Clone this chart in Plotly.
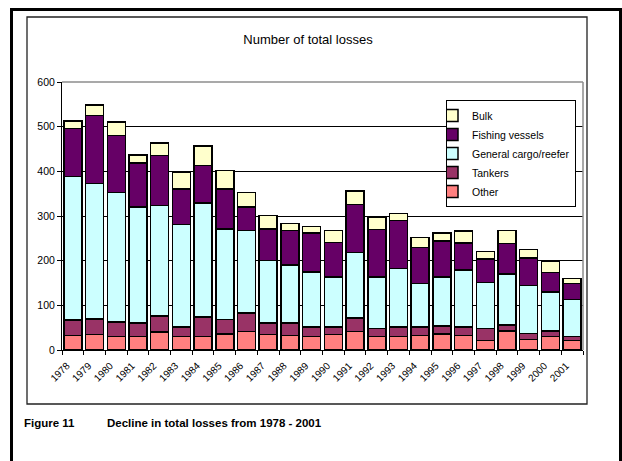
import plotly.graph_objects as go

# Total losses per year, split by ship type (stacked bottom to top)
years = [str(y) for y in range(1978, 2002)]
other = [33, 35, 30, 30, 40, 30, 30, 36, 41, 35, 33, 30, 35, 41, 30, 30, 33, 36, 33, 21, 42, 24, 30, 21]
tankers = [34, 34, 33, 31, 36, 22, 44, 32, 42, 25, 27, 22, 17, 31, 18, 22, 19, 18, 19, 27, 14, 13, 12, 9]
general_cargo = [322, 304, 290, 259, 247, 229, 255, 203, 184, 140, 130, 123, 112, 146, 116, 131, 97, 110, 127, 103, 114, 107, 88, 83]
fishing = [107, 152, 127, 99, 113, 80, 84, 90, 53, 71, 77, 87, 77, 108, 106, 107, 80, 80, 61, 53, 69, 62, 43, 36]
bulk = [17, 23, 30, 18, 28, 36, 44, 41, 33, 30, 16, 14, 26, 30, 27, 16, 23, 18, 26, 16, 29, 19, 26, 11]

series = [
    ("Other", other, "#FF8080"),
    ("Tankers", tankers, "#993366"),
    ("General cargo/reefer", general_cargo, "#CCFFFF"),
    ("Fishing vessels", fishing, "#660066"),
    ("Bulk", bulk, "#FFFFCC"),
]

FONT = "Liberation Sans, Arial, sans-serif"

fig = go.Figure()
for name, vals, color in series:
    fig.add_trace(go.Bar(
        x=years, y=vals, name=name,
        marker=dict(color=color, line=dict(color="#000000", width=1.5)),
    ))

W, H = 622, 461
L, R, T, B = 62, 583, 82, 350  # plot area in pixels


def px(x):
    return (x - L) / (R - L)


def py(y):
    return (B - y) / (B - T)


shapes = [
    # outer page frame
    dict(type="rect", xref="paper", yref="paper",
         x0=px(11.5), x1=px(620.5), y0=py(480), y1=py(9.5),
         line=dict(color="#000000", width=3), layer="above"),
    # chart area frame
    dict(type="rect", xref="paper", yref="paper",
         x0=px(27), x1=px(587), y0=py(404), y1=py(17),
         line=dict(color="#222222", width=1.3), layer="above"),
    # plot area border (top and right)
    dict(type="line", xref="paper", yref="paper",
         x0=0, x1=1, y0=1, y1=1, line=dict(color="#8C8C8C", width=1.5)),
    dict(type="line", xref="paper", yref="paper",
         x0=1, x1=1, y0=0, y1=1, line=dict(color="#8C8C8C", width=1.5)),
]

fig.update_layout(
    width=W, height=H,
    margin=dict(l=L, r=W - R, t=T, b=H - B),
    paper_bgcolor="white", plot_bgcolor="white",
    barmode="stack", bargap=0.17,
    font=dict(family=FONT, size=10, color="#000000"),
    title=dict(text="Number of total losses", font=dict(size=13, color="#000000"),
               xref="container", yref="container", x=308 / W, y=1 - 39 / H,
               xanchor="center", yanchor="middle"),
    showlegend=True,
    legend=dict(x=px(446), y=py(100), xanchor="left", yanchor="top",
                traceorder="reversed", bgcolor="white",
                bordercolor="#000000", borderwidth=1,
                font=dict(size=10.5), itemwidth=30, indentation=-15,
                tracegroupgap=0),
    shapes=shapes,
    annotations=[
        dict(text="<b>Figure 11</b>", xref="paper", yref="paper",
             x=px(22), y=py(423), xanchor="left", yanchor="middle",
             showarrow=False, font=dict(size=11.5)),
        dict(text="<b>Decline in total losses from 1978 - 2001</b>", xref="paper", yref="paper",
             x=px(105), y=py(423), xanchor="left", yanchor="middle",
             showarrow=False, font=dict(size=11.5)),
    ],
)

fig.update_xaxes(
    type="category", showline=True, linecolor="#000000", linewidth=1,
    ticks="outside", tickson="boundaries", ticklen=4, tickcolor="#000000",
    tickangle=-45, tickfont=dict(size=10), ticklabelshift=-6, ticklabelstandoff=5,
    showgrid=False,
)
fig.update_yaxes(
    range=[0, 600], dtick=100, showline=True, linecolor="#000000", linewidth=1,
    ticks="outside", ticklen=4, tickcolor="#000000", tickfont=dict(size=10.5),
    showgrid=True, gridcolor="#000000", gridwidth=1, zeroline=False,
)

fig.write_html("out.html")
